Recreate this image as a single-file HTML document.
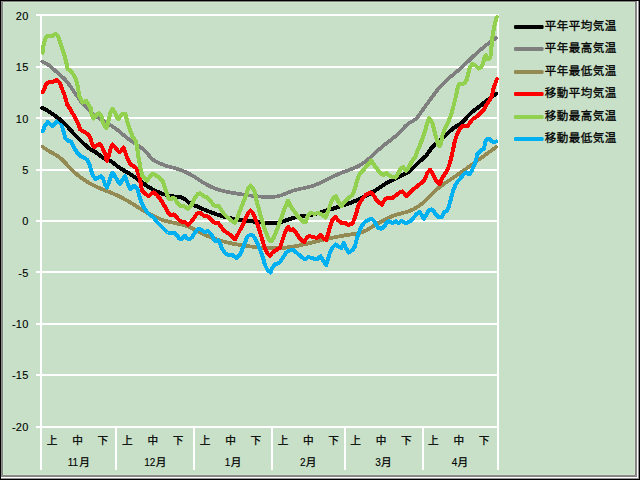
<!DOCTYPE html>
<html><head><meta charset="utf-8"><title>chart</title>
<style>
html,body{margin:0;padding:0;background:#C7E0C7;}
body{width:640px;height:480px;overflow:hidden;position:relative;}
svg{position:absolute;left:0;top:0;display:block;}
text{font-family:"Liberation Sans","Noto Sans CJK JP",sans-serif;fill:#000;stroke:#000;stroke-width:0.1px;}
text.lg{font-size:11.5px;letter-spacing:0.5px;stroke-width:0.3px;}
text.ax{font-size:10.67px;stroke-width:0.25px;}
</style></head><body>
<svg width="640" height="480" viewBox="0 0 640 480">
<rect x="0" y="0" width="640" height="480" fill="#C7E0C7"/>
<rect x="3" y="2" width="632" height="1" fill="#CEE8CE"/>
<rect x="3" y="474" width="632" height="1" fill="#CEE8CE"/>
<rect x="3" y="2" width="1" height="473" fill="#CEE8CE"/>
<rect x="634" y="2" width="1" height="473" fill="#CEE8CE"/>
<rect x="0" y="1" width="640" height="1" fill="#808080"/>
<rect x="1" y="1" width="1" height="478" fill="#8c8c8c"/>
<rect x="2" y="2" width="1" height="476" fill="#848484"/>
<rect x="635" y="2" width="1" height="475" fill="#808080"/>
<rect x="636" y="2" width="1" height="475" fill="#8a8a8a"/>
<rect x="637" y="1" width="1" height="477" fill="#ffffff"/>
<rect x="638" y="1" width="1" height="478" fill="#909090"/>
<rect x="2" y="475" width="635" height="1" fill="#8a8a8a"/>
<rect x="2" y="476" width="635" height="1" fill="#848484"/>
<rect x="1" y="477" width="637" height="1" fill="#ffffff"/>
<rect x="1" y="478" width="638" height="1" fill="#909090"/>
<rect x="0" y="0" width="640" height="1" fill="#000"/>
<rect x="0" y="479" width="640" height="1" fill="#000"/>
<rect x="0" y="0" width="1" height="480" fill="#000"/>
<rect x="639" y="0" width="1" height="480" fill="#000"/>
<rect x="36" y="14" width="463" height="2" fill="#fff"/>
<rect x="36" y="66" width="463" height="2" fill="#fff"/>
<rect x="36" y="117" width="463" height="2" fill="#fff"/>
<rect x="36" y="169" width="463" height="2" fill="#fff"/>
<rect x="36" y="220" width="463" height="2" fill="#fff"/>
<rect x="36" y="271" width="463" height="2" fill="#fff"/>
<rect x="36" y="323" width="463" height="2" fill="#fff"/>
<rect x="36" y="374" width="463" height="2" fill="#fff"/>
<rect x="36" y="426" width="463" height="2" fill="#fff"/>
<rect x="40" y="14" width="2" height="456" fill="#fff"/>
<rect x="497" y="14" width="2" height="456" fill="#fff"/>
<rect x="115" y="427" width="2" height="43" fill="#fff"/>
<rect x="193" y="427" width="2" height="43" fill="#fff"/>
<rect x="271" y="427" width="2" height="43" fill="#fff"/>
<rect x="344" y="427" width="2" height="43" fill="#fff"/>
<rect x="422" y="427" width="2" height="43" fill="#fff"/>
<polyline shape-rendering="crispEdges" points="42.75,146.86 44.76,148.36 47.27,150.01 49.77,151.48 52.28,152.89 54.79,154.31 57.30,155.85 59.81,157.61 62.31,159.74 64.82,162.34 67.33,165.14 69.84,167.82 72.35,170.32 74.85,172.63 77.36,174.79 79.87,176.78 82.38,178.62 84.89,180.33 87.39,181.91 89.90,183.36 92.41,184.71 94.92,185.96 97.43,187.12 99.93,188.22 102.44,189.28 104.95,190.30 107.46,191.30 109.97,192.32 112.47,193.35 114.98,194.43 117.49,195.56 120.00,196.77 122.51,198.06 125.01,199.43 127.52,200.87 130.03,202.36 132.54,203.88 135.05,205.43 137.55,206.98 140.06,208.52 142.57,210.04 145.08,211.53 147.59,212.97 150.09,214.34 152.60,215.65 155.11,216.88 157.62,218.01 160.13,219.04 162.63,219.96 165.14,220.76 167.65,221.44 170.16,222.05 172.67,222.59 175.17,223.11 177.68,223.62 180.19,224.16 182.70,224.78 185.21,225.50 187.71,226.37 190.22,227.41 192.73,228.62 195.24,229.92 197.75,231.27 200.25,232.59 202.76,233.84 205.27,235.01 207.78,236.11 210.29,237.14 212.79,238.11 215.30,239.00 217.81,239.84 220.32,240.61 222.83,241.33 225.33,241.99 227.84,242.60 230.35,243.16 232.86,243.68 235.37,244.16 237.87,244.60 240.38,245.01 242.89,245.39 245.40,245.75 247.91,246.09 250.41,246.42 252.92,246.73 255.43,247.03 257.94,247.31 260.45,247.56 262.95,247.78 265.46,247.96 267.97,248.11 270.48,248.21 272.99,248.26 275.49,248.26 278.00,248.20 280.51,248.08 283.02,247.90 285.53,247.65 288.03,247.35 290.54,246.99 293.05,246.59 295.56,246.15 298.07,245.67 300.57,245.16 303.08,244.62 305.59,244.05 308.10,243.47 310.61,242.87 313.11,242.26 315.62,241.64 318.13,241.02 320.64,240.41 323.15,239.81 325.65,239.22 328.16,238.64 330.67,238.09 333.18,237.56 335.69,237.06 338.19,236.57 340.70,236.11 343.21,235.66 345.72,235.23 348.23,234.81 350.73,234.40 353.24,234.00 355.75,233.61 358.26,233.18 360.77,232.57 363.27,231.69 365.78,230.53 368.29,229.18 370.80,227.71 373.31,226.20 375.81,224.70 378.32,223.23 380.83,221.81 383.34,220.44 385.85,219.14 388.35,217.92 390.86,216.81 393.37,215.81 395.88,214.94 398.39,214.19 400.89,213.50 403.40,212.83 405.91,212.12 408.42,211.31 410.93,210.37 413.43,209.23 415.94,207.85 418.45,206.24 420.96,204.46 423.47,202.47 425.97,200.20 428.48,197.60 430.99,194.88 433.50,192.33 436.01,190.01 438.51,187.90 441.02,185.97 443.53,184.17 446.04,182.46 448.55,180.81 451.05,179.15 453.56,177.47 456.07,175.77 458.58,174.04 461.09,172.30 463.59,170.54 466.10,168.77 468.61,166.98 471.12,165.18 473.63,163.38 476.13,161.56 478.64,159.74 481.15,157.92 483.66,156.10 486.17,154.28 488.67,152.46 491.18,150.64 493.69,148.83 496.20,147.03" fill="none" stroke="#948A54" stroke-width="3.8" stroke-linejoin="round" stroke-linecap="round"/>
<polyline shape-rendering="crispEdges" points="42.75,131.00 45.00,125.60 47.75,121.90 52.50,126.00 56.90,121.25 59.40,121.00 61.90,125.60 63.75,132.50 65.60,138.75 68.10,140.60 71.25,141.90 73.75,146.90 76.90,152.50 80.00,155.60 83.75,157.50 87.00,159.60 89.40,164.00 91.00,170.00 93.00,175.50 95.60,179.40 98.10,177.50 100.60,176.25 103.10,178.75 105.00,184.40 106.90,187.50 108.75,183.10 110.60,176.90 112.50,172.60 115.00,176.25 117.50,180.60 120.00,184.00 122.50,180.00 125.00,176.25 126.90,181.25 128.75,186.25 130.60,189.40 133.10,186.25 135.00,186.25 137.50,189.40 139.20,195.80 141.25,202.00 144.00,207.50 147.00,212.00 150.60,215.60 153.75,217.50 156.90,221.90 161.25,226.25 165.00,230.00 167.50,232.50 173.75,232.50 176.90,235.00 179.40,238.75 181.25,239.40 183.10,237.50 185.00,235.60 186.90,238.10 188.75,239.40 191.90,237.50 195.00,232.50 197.50,229.40 200.00,229.00 204.40,231.90 208.10,231.25 211.25,234.40 214.40,240.00 215.60,241.25 218.10,240.00 220.00,243.75 222.50,249.40 225.60,253.75 228.75,255.00 232.50,255.00 236.25,258.10 240.00,255.00 242.50,248.75 245.00,242.50 247.50,236.25 250.00,235.00 253.10,235.60 255.60,239.40 258.10,245.00 260.60,251.25 263.10,258.10 265.00,265.00 267.50,270.00 270.60,272.50 272.50,267.50 275.00,264.40 278.10,263.10 280.00,262.00 283.10,257.50 286.25,252.50 289.40,250.60 293.75,250.00 296.25,252.50 300.00,255.60 303.10,258.10 305.60,259.40 308.10,256.90 311.90,258.10 316.90,259.40 320.60,256.25 323.10,260.60 326.25,265.00 328.10,258.75 330.00,252.50 332.50,247.50 335.60,244.40 338.10,246.25 341.25,248.10 343.75,243.10 345.60,247.50 348.75,252.50 352.50,250.00 355.00,246.25 356.90,238.75 358.75,232.50 360.00,230.00 361.90,225.60 365.00,221.90 368.10,220.00 371.25,218.75 373.75,220.60 376.25,225.00 378.75,228.10 381.25,228.75 384.40,226.25 386.90,222.50 389.40,221.25 392.50,223.10 395.60,221.25 398.75,223.10 401.25,220.60 404.40,222.50 406.90,223.10 410.00,221.25 413.10,218.10 416.25,214.40 419.40,211.90 421.90,215.00 423.75,218.75 426.25,215.00 428.75,210.60 431.25,209.40 433.50,210.90 436.00,214.70 438.75,217.00 441.90,216.90 443.75,212.50 447.20,210.80 448.80,206.50 450.10,202.00 451.60,196.30 453.10,190.75 455.60,184.50 458.00,181.00 460.60,178.25 464.00,173.90 466.30,172.40 469.40,174.40 471.90,170.50 474.00,165.60 475.90,160.50 477.50,153.75 480.00,151.25 483.75,148.75 484.80,145.00 485.50,141.30 486.60,139.30 489.80,139.10 491.50,140.90 493.75,141.90 496.40,141.50" fill="none" stroke="#00B0F0" stroke-width="4.0" stroke-linejoin="round" stroke-linecap="round"/>
<polyline shape-rendering="crispEdges" points="42.25,108.12 44.76,109.26 47.27,110.62 49.77,112.15 52.28,113.82 54.79,115.60 57.30,117.46 59.81,119.37 62.31,121.38 64.82,123.67 67.33,126.36 69.84,129.29 72.35,132.19 74.85,134.93 77.36,137.53 79.87,140.02 82.38,142.40 84.89,144.71 87.39,146.91 89.90,148.86 92.41,150.41 94.92,151.79 97.43,153.44 99.93,155.51 102.44,157.47 104.95,158.83 107.46,159.82 109.97,160.85 112.47,162.32 114.98,164.26 117.49,166.28 120.00,168.07 122.51,169.64 125.01,171.09 127.52,172.51 130.03,173.99 132.54,175.61 135.05,177.33 137.55,179.14 140.06,180.98 142.57,182.82 145.08,184.62 147.59,186.34 150.09,187.94 152.60,189.40 155.11,190.71 157.62,191.88 160.13,192.91 162.63,193.82 165.14,194.60 167.65,195.27 170.16,195.83 172.67,196.29 175.17,196.65 177.68,196.93 180.19,197.17 182.70,197.79 185.21,199.31 187.71,201.64 190.22,203.72 192.73,204.77 195.24,205.69 197.75,206.73 200.25,207.82 202.76,208.93 205.27,210.01 207.78,211.04 210.29,212.03 212.79,212.98 215.30,213.88 217.81,214.73 220.32,215.53 222.83,216.28 225.33,216.98 227.84,217.62 230.35,218.21 232.86,218.74 235.37,219.22 237.87,219.65 240.38,220.03 242.89,220.38 245.40,220.70 247.91,221.00 250.41,221.27 252.92,221.53 255.43,221.79 257.94,222.04 260.45,222.29 262.95,222.54 265.46,222.77 267.97,222.94 270.48,223.04 272.99,223.02 275.49,222.86 278.00,222.54 280.51,222.03 283.02,221.32 285.53,220.48 288.03,219.59 290.54,218.73 293.05,217.97 295.56,217.36 298.07,216.86 300.57,216.44 303.08,216.07 305.59,215.71 308.10,215.32 310.61,214.88 313.11,214.34 315.62,213.72 318.13,213.03 320.64,212.29 323.15,211.54 325.65,210.79 328.16,210.05 330.67,209.30 333.18,208.55 335.69,207.79 338.19,207.01 340.70,206.22 343.21,205.40 345.72,204.54 348.23,203.66 350.73,202.73 353.24,201.75 355.75,200.73 358.26,199.65 360.77,198.51 363.27,197.30 365.78,196.02 368.29,194.66 370.80,193.23 373.31,191.70 375.81,190.09 378.32,188.42 380.83,186.74 383.34,185.09 385.85,183.51 388.35,182.05 390.86,180.69 393.37,179.41 395.88,178.20 398.39,177.04 400.89,175.91 403.40,174.75 405.91,173.46 408.42,171.91 410.93,169.98 413.43,167.68 415.94,165.17 418.45,162.64 420.96,160.24 423.47,158.11 425.97,155.93 428.48,152.53 430.99,148.75 433.50,145.74 436.01,143.32 438.51,141.23 441.02,139.19 443.53,137.00 446.04,134.70 448.55,132.40 451.05,130.20 453.56,128.20 456.07,126.46 458.58,124.87 461.09,123.33 463.59,121.30 466.10,118.23 468.61,115.32 471.12,112.87 473.63,110.76 476.13,108.84 478.64,106.98 481.15,105.08 483.66,103.12 486.17,101.16 488.67,99.21 491.18,97.32 493.69,95.52 496.20,93.85" fill="none" stroke="#000000" stroke-width="4.0" stroke-linejoin="round" stroke-linecap="round"/>
<polyline shape-rendering="crispEdges" points="42.25,61.74 44.76,62.68 47.27,64.12 49.77,65.95 52.28,68.04 54.79,70.28 57.30,72.56 59.81,74.75 62.31,76.92 64.82,79.34 67.33,82.25 69.84,85.57 72.35,89.16 74.85,92.86 77.36,96.52 79.87,99.98 82.38,103.17 84.89,106.08 87.39,108.74 89.90,111.13 92.41,113.29 94.92,115.23 97.43,117.00 99.93,118.65 102.44,120.21 104.95,121.72 107.46,123.22 109.97,124.76 112.47,126.38 114.98,128.11 117.49,130.00 120.00,132.07 122.51,134.21 125.01,136.32 127.52,138.29 130.03,140.09 132.54,141.78 135.05,143.43 137.55,145.12 140.06,146.90 142.57,148.85 145.08,151.07 147.59,153.69 150.09,156.79 152.60,159.38 155.11,160.98 157.62,162.17 160.13,163.39 162.63,164.57 165.14,165.51 167.65,166.21 170.16,166.83 172.67,167.48 175.17,168.20 177.68,169.00 180.19,169.88 182.70,170.86 185.21,171.93 187.71,173.11 190.22,174.42 192.73,175.84 195.24,177.39 197.75,179.00 200.25,180.65 202.76,182.26 205.27,183.78 207.78,185.17 210.29,186.42 212.79,187.52 215.30,188.50 217.81,189.37 220.32,190.14 222.83,190.81 225.33,191.41 227.84,191.95 230.35,192.43 232.86,192.88 235.37,193.29 237.87,193.69 240.38,194.09 242.89,194.47 245.40,194.84 247.91,195.20 250.41,195.54 252.92,195.85 255.43,196.14 257.94,196.41 260.45,196.64 262.95,196.84 265.46,196.99 267.97,197.07 270.48,197.05 272.99,196.91 275.49,196.61 278.00,196.14 280.51,195.47 283.02,194.59 285.53,193.59 288.03,192.54 290.54,191.54 293.05,190.64 295.56,189.91 298.07,189.31 300.57,188.79 303.08,188.29 305.59,187.79 308.10,187.23 310.61,186.56 313.11,185.75 315.62,184.80 318.13,183.73 320.64,182.58 323.15,181.38 325.65,180.16 328.16,178.92 330.67,177.70 333.18,176.49 335.69,175.32 338.19,174.19 340.70,173.13 343.21,172.14 345.72,171.21 348.23,170.31 350.73,169.40 353.24,168.42 355.75,167.33 358.26,166.10 360.77,164.70 363.27,163.12 365.78,161.31 368.29,159.29 370.80,157.08 373.31,154.76 375.81,152.40 378.32,150.08 380.83,147.86 383.34,145.78 385.85,143.79 388.35,141.85 390.86,139.93 393.37,137.98 395.88,135.95 398.39,133.68 400.89,131.03 403.40,128.26 405.91,125.67 408.42,123.57 410.93,122.06 413.43,120.66 415.94,118.83 418.45,116.05 420.96,112.49 423.47,108.88 425.97,105.46 428.48,102.03 430.99,98.56 433.50,95.11 436.01,91.80 438.51,88.70 441.02,85.87 443.53,83.27 446.04,80.86 448.55,78.60 451.05,76.43 453.56,74.33 456.07,72.24 458.58,70.13 461.09,67.94 463.59,65.66 466.10,63.26 468.61,60.82 471.12,58.38 473.63,55.98 476.13,53.67 478.64,51.43 481.15,49.27 483.66,47.18 486.17,45.18 488.67,43.27 491.18,41.44 493.69,39.69 496.20,38.03" fill="none" stroke="#7F7F7F" stroke-width="3.7" stroke-linejoin="round" stroke-linecap="round"/>
<polyline shape-rendering="crispEdges" points="42.80,92.25 46.25,84.10 48.75,82.25 52.50,81.90 56.25,79.90 60.00,82.90 61.90,88.50 64.40,94.75 66.25,101.00 67.30,104.80 70.25,109.10 73.40,114.75 76.50,120.40 78.50,124.50 80.10,129.50 84.50,131.90 88.90,135.00 90.75,139.40 92.00,143.75 94.50,147.40 97.00,145.00 99.50,144.10 102.00,146.90 103.90,151.25 105.50,155.00 106.90,160.90 108.75,155.60 110.60,148.75 112.50,144.40 115.00,146.90 118.10,151.25 120.00,152.20 123.75,147.50 126.60,156.25 130.00,163.75 136.25,168.10 138.75,175.00 140.00,179.40 141.90,190.60 145.00,193.75 148.75,196.25 151.25,193.75 153.75,192.50 156.90,195.00 160.00,198.75 162.20,202.00 164.80,206.50 167.30,211.00 169.50,214.50 171.90,215.00 173.75,214.40 176.25,216.90 179.40,220.60 182.50,221.90 185.00,221.90 188.10,225.00 191.25,221.90 194.40,217.50 196.90,213.75 200.00,212.50 203.75,215.60 208.00,216.50 211.25,220.00 214.70,222.80 218.40,223.10 220.60,226.00 223.75,230.60 226.90,232.50 230.60,235.00 233.10,237.50 235.00,239.40 237.50,235.00 240.00,230.00 242.70,225.00 245.30,219.00 248.00,213.00 250.60,210.60 253.30,213.50 256.00,220.50 258.50,227.50 261.25,236.25 263.10,242.50 265.00,248.75 267.50,253.75 270.00,255.60 272.50,252.50 276.25,250.00 280.00,247.50 282.50,240.00 285.00,232.50 288.10,226.90 290.60,230.00 293.10,229.40 295.60,231.90 298.75,236.90 301.90,240.60 304.40,241.90 306.90,237.50 309.40,236.25 313.10,236.90 316.90,238.10 320.60,235.00 323.10,238.10 326.25,240.00 328.10,233.75 330.00,227.00 332.20,220.50 335.30,216.90 338.10,220.30 341.25,222.80 344.70,222.50 348.10,225.00 352.20,223.80 354.70,218.50 356.50,212.50 358.10,206.00 360.00,202.50 362.50,198.75 366.25,194.40 370.60,192.50 373.10,194.40 375.60,198.75 378.75,202.50 381.90,204.60 385.00,199.40 388.10,197.50 392.50,198.10 396.25,195.00 400.00,192.20 402.50,191.50 406.60,195.90 410.60,191.80 415.00,188.00 419.00,184.80 423.40,181.40 425.50,177.50 427.40,172.80 430.00,169.70 432.60,173.50 434.70,178.10 437.30,182.30 439.60,184.20 442.70,177.20 445.90,172.50 448.30,167.80 450.00,162.50 451.90,155.00 453.60,147.00 454.90,140.75 457.00,134.50 460.00,128.40 463.30,125.60 467.50,126.25 472.50,119.40 478.75,115.00 483.75,110.00 486.25,105.00 489.40,100.60 491.90,95.60 493.10,90.00 495.00,84.30 496.80,79.20" fill="none" stroke="#FF0000" stroke-width="4.0" stroke-linejoin="round" stroke-linecap="round"/>
<polyline shape-rendering="crispEdges" points="42.60,52.80 43.75,43.75 45.60,38.10 48.10,35.80 52.50,35.80 55.60,34.00 57.80,35.60 59.50,40.00 61.20,45.60 63.20,52.00 64.40,55.50 66.70,64.40 67.50,68.75 71.25,71.50 74.50,76.20 76.60,82.00 78.10,88.50 79.50,96.90 82.75,102.50 86.00,100.60 87.75,103.50 90.90,108.50 91.70,114.75 93.40,118.60 96.50,114.75 99.00,113.00 101.50,116.00 102.75,122.25 106.25,128.20 108.75,120.00 110.60,112.50 112.50,109.00 115.00,112.50 116.70,117.30 118.30,119.20 119.80,117.00 121.60,114.30 125.30,114.10 126.80,120.00 128.70,126.25 130.90,132.50 133.10,137.50 136.00,141.25 136.90,146.25 138.10,155.50 139.40,162.00 140.60,168.75 142.50,176.25 143.10,176.25 146.90,180.60 150.00,176.90 153.10,173.75 156.25,175.60 160.00,178.10 163.10,181.90 165.00,187.50 166.90,193.75 168.75,198.75 170.60,199.40 172.50,198.10 175.00,198.75 176.90,202.50 180.00,205.60 183.75,206.25 188.10,208.75 191.90,204.40 195.00,197.50 198.10,193.75 200.00,193.40 203.75,196.25 207.50,197.50 210.60,201.25 213.75,205.00 215.60,206.25 218.10,205.60 220.60,208.75 223.75,213.75 226.90,216.90 230.00,219.40 233.10,221.90 235.00,223.00 236.90,218.75 238.75,213.75 241.25,207.50 243.75,201.25 246.25,195.00 248.10,188.75 250.60,185.60 253.10,188.10 255.00,193.10 256.25,200.00 258.10,206.25 260.00,213.50 262.20,220.50 264.50,228.50 267.50,236.25 269.40,240.00 271.25,241.25 273.75,237.50 276.25,231.25 278.75,225.00 280.00,221.25 282.50,215.00 285.00,207.50 288.10,200.60 290.60,206.25 293.75,210.60 296.90,215.00 300.00,218.75 303.10,221.90 305.60,221.90 307.50,216.25 310.60,213.10 314.40,213.75 318.75,213.10 322.50,215.00 325.60,217.50 328.10,211.25 330.60,203.75 333.10,198.10 335.60,196.25 338.10,201.25 341.25,206.25 344.40,201.90 348.10,198.10 352.50,195.00 355.00,188.75 356.90,181.25 358.75,176.00 360.00,173.30 363.75,169.50 367.50,165.00 371.25,160.60 373.75,164.40 376.90,168.75 380.00,172.50 383.10,175.00 386.25,173.10 389.40,175.60 392.50,176.90 395.60,177.50 398.10,173.75 400.60,168.75 403.10,166.90 406.25,170.60 409.40,166.25 411.90,161.25 415.30,156.90 417.30,151.00 420.00,145.00 421.90,140.00 423.75,134.40 425.60,128.75 427.50,122.50 428.90,118.30 431.25,120.50 432.90,124.50 434.40,131.25 436.25,138.00 437.80,144.00 439.40,146.25 441.25,142.50 442.50,135.00 445.00,128.75 448.10,122.50 450.60,116.25 452.50,110.00 454.40,102.50 456.25,95.00 457.50,88.75 458.75,84.40 461.25,84.40 464.40,83.10 466.90,79.40 468.10,73.75 470.00,67.20 472.80,64.00 475.50,65.60 478.50,68.50 481.25,67.20 483.00,63.00 484.40,58.00 485.90,55.00 488.10,59.40 490.40,57.00 491.25,50.00 491.90,41.25 493.10,32.50 495.00,23.00 496.70,17.30" fill="none" stroke="#92D050" stroke-width="4.1" stroke-linejoin="round" stroke-linecap="round"/>
<rect x="514" y="25" width="29.6" height="4" rx="1.3" fill="#000000"/>
<text class="lg" x="544.75" y="29.5">平年平均気温</text>
<rect x="514" y="47" width="29.6" height="4" rx="1.3" fill="#7F7F7F"/>
<text class="lg" x="544.75" y="51.5">平年最高気温</text>
<rect x="514" y="70" width="29.6" height="4" rx="1.3" fill="#948A54"/>
<text class="lg" x="544.75" y="74.5">平年最低気温</text>
<rect x="514" y="92" width="29.6" height="4" rx="1.3" fill="#FF0000"/>
<text class="lg" x="544.75" y="96.5">移動平均気温</text>
<rect x="514" y="115" width="29.6" height="4" rx="1.3" fill="#92D050"/>
<text class="lg" x="544.75" y="119.5">移動最高気温</text>
<rect x="514" y="137" width="29.6" height="4" rx="1.3" fill="#00B0F0"/>
<text class="lg" x="544.75" y="141.5">移動最低気温</text>
<text x="28.7" y="20" font-size="11" text-anchor="end" font-weight="normal" letter-spacing="0.3">20</text>
<text x="28.7" y="71" font-size="11" text-anchor="end" font-weight="normal" letter-spacing="0.3">15</text>
<text x="28.7" y="123" font-size="11" text-anchor="end" font-weight="normal" letter-spacing="0.3">10</text>
<text x="28.7" y="174" font-size="11" text-anchor="end" font-weight="normal" letter-spacing="0.3">5</text>
<text x="28.7" y="225" font-size="11" text-anchor="end" font-weight="normal" letter-spacing="0.3">0</text>
<text x="28.7" y="277.2" font-size="11" text-anchor="end" font-weight="normal" letter-spacing="0.3">-5</text>
<text x="28.7" y="328.2" font-size="11" text-anchor="end" font-weight="normal" letter-spacing="0.3">-10</text>
<text x="28.7" y="379.2" font-size="11" text-anchor="end" font-weight="normal" letter-spacing="0.3">-15</text>
<text x="28.7" y="431" font-size="11" text-anchor="end" font-weight="normal" letter-spacing="0.3">-20</text>
<text class="ax" x="46.87" y="444.2">上</text>
<text class="ax" x="72.17" y="444.2">中</text>
<text class="ax" x="97.47" y="444.2">下</text>
<text x="67.73" y="466" font-size="10" text-anchor="start" font-weight="normal" letter-spacing="0">11</text>
<text class="ax" x="79.15" y="466.2">月</text>
<text class="ax" x="122.12" y="444.2">上</text>
<text class="ax" x="147.42" y="444.2">中</text>
<text class="ax" x="172.72" y="444.2">下</text>
<text x="144.23" y="466" font-size="10" text-anchor="start" font-weight="normal" letter-spacing="0">12</text>
<text class="ax" x="155.65" y="466.2">月</text>
<text class="ax" x="199.87" y="444.2">上</text>
<text class="ax" x="225.17" y="444.2">中</text>
<text class="ax" x="250.47" y="444.2">下</text>
<text x="224.77" y="466" font-size="10" text-anchor="start" font-weight="normal" letter-spacing="0">1</text>
<text class="ax" x="230.63" y="466.2">月</text>
<text class="ax" x="277.63" y="444.2">上</text>
<text class="ax" x="302.93" y="444.2">中</text>
<text class="ax" x="328.23" y="444.2">下</text>
<text x="300.01" y="466" font-size="10" text-anchor="start" font-weight="normal" letter-spacing="0">2</text>
<text class="ax" x="305.87" y="466.2">月</text>
<text class="ax" x="350.37" y="444.2">上</text>
<text class="ax" x="375.67" y="444.2">中</text>
<text class="ax" x="400.97" y="444.2">下</text>
<text x="375.26" y="466" font-size="10" text-anchor="start" font-weight="normal" letter-spacing="0">3</text>
<text class="ax" x="381.12" y="466.2">月</text>
<text class="ax" x="428.12" y="444.2">上</text>
<text class="ax" x="453.42" y="444.2">中</text>
<text class="ax" x="478.72" y="444.2">下</text>
<text x="451.76" y="466" font-size="10" text-anchor="start" font-weight="normal" letter-spacing="0">4</text>
<text class="ax" x="457.62" y="466.2">月</text>
</svg>
</body></html>
